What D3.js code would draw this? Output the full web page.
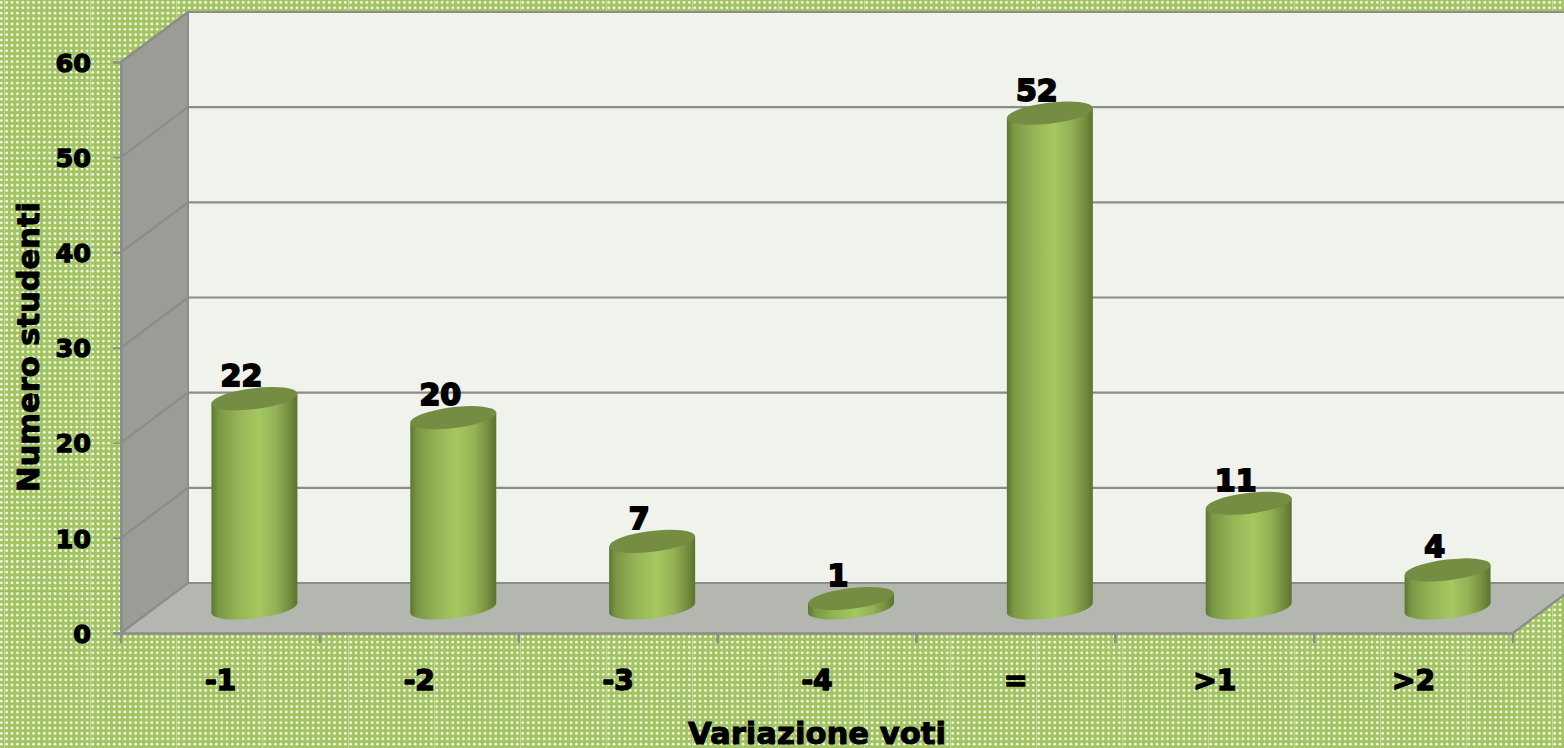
<!doctype html>
<html lang="en">
<head>
<meta charset="utf-8">
<title>Variazione voti</title>
<style>
  html, body { margin: 0; padding: 0; background: #a4c566; overflow: hidden; }
  text { font-family: "DejaVu Sans", Verdana, sans-serif; font-weight: bold; fill: #000; stroke: #000; }
</style>
</head>
<body>
<script src="https://d3js.org/d3.v7.min.js"></script>
<script>
// chart data
var categories = ["-1", "-2", "-3", "-4", "=", ">1", ">2"];
var values = [22, 20, 7, 1, 52, 11, 4];
var yTicks = [0, 10, 20, 30, 40, 50, 60];
var xTitle = "Variazione voti";
var yTitle = "Numero studenti";

var w = 1564, h = 748;
var left = 121, right = 1513, bottom = 633, top60 = 62;
// depth of the fake 3d box
var dx = 67, dy = -50;

var x = d3.scaleBand().domain(categories).range([left, right]);
var y = d3.scaleLinear().domain([0, 60]).range([bottom, top60]);

var svg = d3.select("body").append("svg")
  .attr("width", w)
  .attr("height", h)
  .style("display", "block");

var defs = svg.append("defs");

// dotted background, one 86px tile with 16x16 dots and faint seams
var tile = 86, dotCount = 16, dotStep = tile / dotCount;
var pat = defs.append("pattern")
  .attr("id", "dots")
  .attr("patternUnits", "userSpaceOnUse")
  .attr("x", 4)
  .attr("y", -11)
  .attr("width", tile)
  .attr("height", tile);
pat.append("rect").attr("width", tile).attr("height", tile).attr("fill", "#a2c462");
d3.range(dotCount).forEach(function(r) {
  d3.range(dotCount).forEach(function(c) {
    pat.append("circle")
      .attr("cx", (c + 0.5) * dotStep)
      .attr("cy", (r + 0.5) * dotStep)
      .attr("r", 1.35)
      .attr("fill", "#f6faec");
  });
});
pat.append("rect").attr("width", 1).attr("height", tile).attr("fill", "#e4eed2").attr("opacity", 0.45);
pat.append("rect").attr("width", tile).attr("height", 1).attr("fill", "#94b856").attr("opacity", 0.6);

var grad = defs.append("linearGradient").attr("id", "cyl");
[[0, "#5b7631"], [0.08, "#7a9745"], [0.3, "#94b356"], [0.55, "#a5c860"], [0.75, "#93b156"], [0.92, "#708a3c"], [1, "#5b7330"]]
  .forEach(function(s) {
    grad.append("stop").attr("offset", s[0]).attr("stop-color", s[1]);
  });

svg.append("rect").attr("width", w).attr("height", h).attr("fill", "url(#dots)");

var line = d3.line();
var wallColor = "#8c8d8a";

// back wall, side wall, floor
svg.append("path")
  .attr("d", line([[left + dx, y(60) + dy], [w + 5, y(60) + dy], [w + 5, y(0) + dy], [left + dx, y(0) + dy]]) + "Z")
  .attr("fill", "#f0f3ec");
svg.append("path")
  .attr("d", line([[left, y(0)], [left, y(60)], [left + dx, y(60) + dy], [left + dx, y(0) + dy]]) + "Z")
  .attr("fill", "#9a9c95")
  .attr("stroke", wallColor)
  .attr("stroke-width", 2);
svg.append("path")
  .attr("d", line([[left, y(0)], [right, y(0)], [right + dx, y(0) + dy], [w + 5, y(0) + dy], [left + dx, y(0) + dy]]) + "Z")
  .attr("fill", "#b4b7af");

// top edge of the back wall
svg.append("path")
  .attr("d", line([[left + dx, y(60) + dy], [w + 5, y(60) + dy]]))
  .attr("stroke", wallColor).attr("stroke-width", 2.2).attr("fill", "none");

// gridlines, back wall and side wall
svg.selectAll(".grid").data(yTicks).enter().append("path")
  .attr("class", "grid")
  .attr("d", function(d) {
    return line([[left, y(d)], [left + dx, y(d) + dy], [w + 5, y(d) + dy]]);
  })
  .attr("fill", "none")
  .attr("stroke", wallColor)
  .attr("stroke-width", 2.2);

// right edge of the floor
svg.append("path")
  .attr("d", line([[right, y(0)], [right + dx, y(0) + dy]]))
  .attr("stroke", wallColor).attr("stroke-width", 2.4).attr("fill", "none");

// axes
var yAxis = d3.axisLeft(y).tickValues(yTicks).tickSize(8).tickPadding(22);
var gy = svg.append("g").attr("transform", "translate(" + left + ",0)").call(yAxis);
gy.selectAll("text")
  .style("font-size", "25.5px").attr("stroke-width", 1.3).attr("dy", "0.36em").attr("text-anchor", "end");

var xAxis = d3.axisBottom(x).tickSize(0).tickPadding(37);
var gx = svg.append("g").attr("transform", "translate(0," + bottom + ")").call(xAxis);
gx.selectAll("text")
  .style("font-size", "28px").attr("stroke-width", 1.5);
gx.selectAll(".sep").data(categories.concat("end")).enter().append("line")
  .attr("class", "sep")
  .attr("x1", function(d, i) { return left + i * x.step(); })
  .attr("x2", function(d, i) { return left + i * x.step(); })
  .attr("y1", 0).attr("y2", 10);
svg.selectAll("g .domain, g .tick line, g .sep")
  .attr("stroke", wallColor).attr("stroke-width", 2.6);
gy.selectAll(".tick line").attr("stroke-width", 1.6);

// cylinders
var rx = 43.3, ry = 10.4, tilt = -7 * Math.PI / 180;

function edgePoint(cx, cy, sign) {
  // where a vertical tangent touches the tilted ellipse
  var t = Math.atan(-(ry / rx) * Math.tan(tilt));
  var ex = rx * Math.cos(t) * Math.cos(tilt) - ry * Math.sin(t) * Math.sin(tilt);
  var ey = rx * Math.cos(t) * Math.sin(tilt) + ry * Math.sin(t) * Math.cos(tilt);
  return [cx + sign * ex, cy + sign * ey];
}

function barX(i) {
  return x(categories[i]) + x.bandwidth() / 2 + dx / 2 + 0.5;
}

var deg = tilt * 180 / Math.PI;
var baseY = y(0) + dy / 2;
var bars = svg.selectAll(".bar")
  .data(values)
  .enter().append("g")
  .attr("class", "bar");

bars.append("path")
  .attr("d", function(d, i) {
    var cx = barX(i);
    var top = y(d) + dy / 2;
    var a = edgePoint(cx, top, -1), b = edgePoint(cx, top, 1);
    var c = edgePoint(cx, baseY, 1), e = edgePoint(cx, baseY, -1);
    return "M" + a + "L" + b + "L" + c +
      "A" + rx + " " + ry + " " + deg + " 0 1 " + e + "Z";
  })
  .attr("fill", "url(#cyl)");

bars.append("ellipse")
  .attr("rx", rx)
  .attr("ry", ry)
  .attr("transform", function(d, i) {
    return "translate(" + barX(i) + "," + (y(d) + dy / 2) + ") rotate(" + deg + ")";
  })
  .attr("fill", "#748d42");

// value labels
bars.append("text")
  .attr("x", function(d, i) { return barX(i) - 13; })
  .attr("y", function(d) { return y(d) + dy / 2 - 12.5; })
  .attr("text-anchor", "middle")
  .attr("stroke-width", 1.9)
  .style("font-size", "30px")
  .text(function(d) { return d; });

// axis titles
svg.append("text")
  .attr("x", 817)
  .attr("y", 744)
  .attr("text-anchor", "middle")
  .attr("textLength", 258)
  .attr("lengthAdjust", "spacingAndGlyphs")
  .attr("stroke-width", 1)
  .style("font-size", "30px")
  .text(xTitle);

svg.append("text")
  .attr("transform", "translate(39,347) rotate(-90)")
  .attr("text-anchor", "middle")
  .attr("textLength", 290)
  .attr("lengthAdjust", "spacingAndGlyphs")
  .attr("stroke-width", 1)
  .style("font-size", "31px")
  .text(yTitle);
</script>
</body>
</html>
